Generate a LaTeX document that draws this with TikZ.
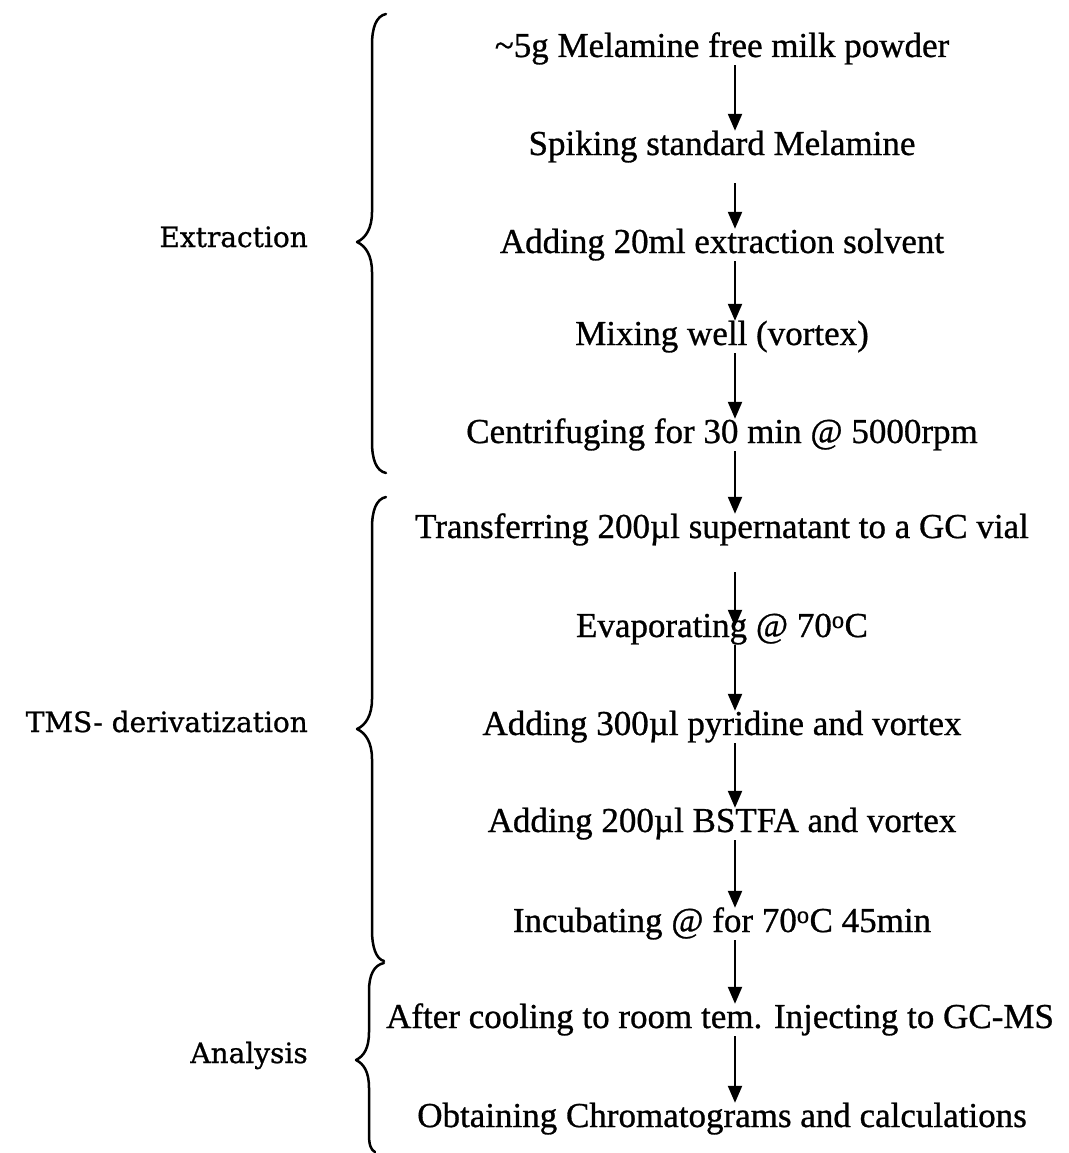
\documentclass[tikz,border=0pt]{standalone}
\usepackage{fontspec}
\setmainfont[FakeBold=0.8]{Liberation Serif}
\newfontfamily\labelfont[FakeBold=0.8]{DejaVu Serif}
\usetikzlibrary{arrows.meta}
\begin{document}
\begin{tikzpicture}[x=1pt,y=-1pt,
  stepnode/.style={anchor=base, inner sep=0pt, font=\fontsize{35}{42}\selectfont, text height=24pt, text depth=8pt},
  phase/.style={anchor=base east, inner sep=0pt, font=\labelfont\fontsize{28}{34}\selectfont},
  arr/.style={line width=2.2pt, -{Triangle[length=17pt,width=14pt]}},
  brace/.style={line width=2.5pt, line cap=round, line join=round}]
\useasboundingbox (0,0) rectangle (1068,1153);
\coordinate (ax) at (735,0);
% steps
\node[stepnode] (s1)  at (722,57)   {\textasciitilde5g Melamine free milk powder};
\node[stepnode] (s2)  at (722,155)  {Spiking standard Melamine};
\node[stepnode] (s3)  at (722,253)  {Adding 20ml extraction solvent};
\node[stepnode] (s4)  at (722,345)  {Mixing well (vortex)};
\node[stepnode] (s5)  at (722,443)  {Centrifuging for 30 min @ 5000rpm};
\node[stepnode] (s6)  at (722,538)  {Transferring 200µl supernatant to a GC vial};
\node[stepnode] (s7)  at (722,637)  {Evaporating @ 70\textsuperscript{o}C};
\node[stepnode] (s8)  at (722,735)  {Adding 300µl pyridine and vortex};
\node[stepnode] (s9)  at (722,832)  {Adding 200µl BSTFA and vortex};
\node[stepnode] (s10) at (722,932)  {Incubating @ for 70\textsuperscript{o}C 45min};
\node[stepnode] (s11) at (720,1028) {After cooling to room tem. Injecting to GC-MS};
\node[stepnode] (s12) at (722,1127) {Obtaining Chromatograms and calculations};
% arrows
\draw[arr] (s1.south -| ax) -- (s2.north -| ax);
\draw[arr, shorten <=20pt] (s2.south -| ax) -- (s3.north -| ax);
\draw[arr] (s3.south -| ax) -- (s4.north -| ax);
\draw[arr] (s4.south -| ax) -- (s5.north -| ax);
\draw[arr] (s5.south -| ax) -- (s6.north -| ax);
\draw[arr, shorten <=26pt, shorten >=-14pt] (s6.south -| ax) -- (s7.north -| ax);
\draw[arr] (s7.south -| ax) -- (s8.north -| ax);
\draw[arr] (s8.south -| ax) -- (s9.north -| ax);
\draw[arr] (s9.south -| ax) -- (s10.north -| ax);
\draw[arr] (s10.south -| ax) -- (s11.north -| ax);
\draw[arr] (s11.south -| ax) -- (s12.north -| ax);
% phase labels
\node[phase] (l1) at (308,247)  {Extraction};
\node[phase] (l2) at (308,732)  {TMS- derivatization};
\node[phase] (l3) at (308,1063) {Analysis};
% braces
\draw[brace] (386,14) .. controls (376,16) and (372,28) .. (372,45) -- (372,212)
  .. controls (372,228) and (366,238) .. (357,242)
  .. controls (366,246) and (372,256) .. (372,272) -- (372,442)
  .. controls (372,459) and (376,471) .. (386,473);
\draw[brace] (386,497) .. controls (376,499) and (372,511) .. (372,528) -- (372,699)
  .. controls (372,715) and (366,725) .. (357,729)
  .. controls (366,733) and (372,743) .. (372,759) -- (372,930)
  .. controls (372,947) and (376,959) .. (384,961);
\draw[brace] (384,963) .. controls (374,965) and (369,975) .. (369,991) -- (369,1032)
  .. controls (369,1048) and (364,1056) .. (356,1060)
  .. controls (364,1064) and (369,1072) .. (369,1088) -- (369,1135)
  .. controls (369,1145) and (371,1150) .. (375,1152);
\end{tikzpicture}
\end{document}
